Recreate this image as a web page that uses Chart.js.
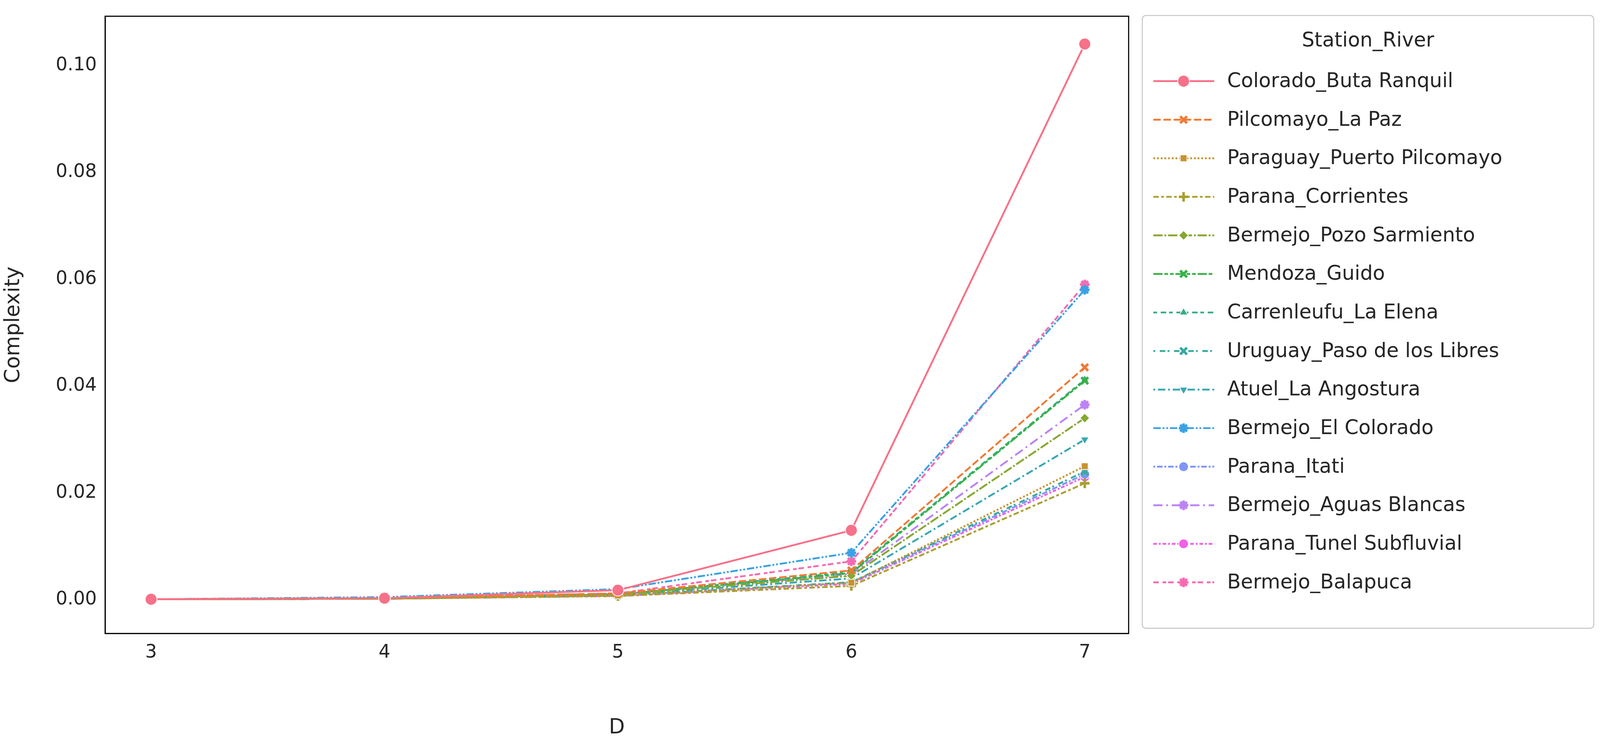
<!DOCTYPE html>
<html><head><meta charset="utf-8">
<script src="https://cdn.jsdelivr.net/npm/chart.js@4"></script>
<style>html,body{margin:0;padding:0;background:#fff;overflow:hidden}#c{display:block}</style>
</head><body>
<canvas id="c"></canvas>
<script>
const D = [3,4,5,6,7];
const xTicks = [3,4,5,6,7];
const yTicks = [0,0.02,0.04,0.06,0.08,0.10];
const names = ["Colorado_Buta Ranquil","Pilcomayo_La Paz","Paraguay_Puerto Pilcomayo","Parana_Corrientes","Bermejo_Pozo Sarmiento","Mendoza_Guido","Carrenleufu_La Elena","Uruguay_Paso de los Libres","Atuel_La Angostura","Bermejo_El Colorado","Parana_Itati","Bermejo_Aguas Blancas","Parana_Tunel Subfluvial","Bermejo_Balapuca"];
const colorado    = [0.0001,0.0003,0.0018,0.0130,0.1040];
const pilcomayo   = [0.0001,0.0003,0.0012,0.0055,0.0435];
const paraguay    = [0.0001,0.0002,0.0008,0.0032,0.0250];
const corrientes  = [0.0001,0.0002,0.0007,0.0026,0.0218];
const pozo        = [0.0001,0.0002,0.0010,0.0045,0.0340];
const mendoza     = [0.0001,0.0002,0.0010,0.0050,0.0410];
const carrenleufu = [0.0001,0.0002,0.0010,0.0052,0.0412];
const uruguay     = [0.0001,0.0002,0.0008,0.0033,0.0240];
const atuel       = [0.0001,0.0002,0.0009,0.0040,0.0300];
const elColorado  = [0.0001,0.0005,0.0020,0.0088,0.0580];
const itati       = [0.0001,0.0002,0.0008,0.0032,0.0235];
const aguas       = [0.0001,0.0002,0.0010,0.0048,0.0365];
const tunel       = [0.0001,0.0002,0.0007,0.0030,0.0230];
const balapuca    = [0.0001,0.0003,0.0012,0.0072,0.0590];
const series = [colorado,pilcomayo,paraguay,corrientes,pozo,mendoza,carrenleufu,uruguay,atuel,elColorado,itati,aguas,tunel,balapuca];
const colors = ["#f77189","#ee7a35","#c8922f","#a9a031","#86a832","#3ab149","#35ac87","#37aa9f","#38a7b4","#3aa2e4","#7f96f5","#bb83f4","#ef62e6","#f56bb3"];

const W = window.innerWidth || 4338, H = window.innerHeight || 1899;
const S = Math.min(W/4338, H/1899);
const cv = document.getElementById("c"); cv.width = W; cv.height = H;
const lw = 5*S;
const dashes = [[],[4,1.5],[1,1],[3,1.25,1.5,1.25],[5,1,1,1],[5,1,2,1,2,1],[2,2,3,1.5],[1,2.5,3,1.2],[1,1.5,4,1.5],[4,1,1,1,1,1],[1,1,3,1],[5,2,1,2],[2,1,1,1],[3,2,2,1]].map(d=>d.map(v=>v*lw));
const styles = ["circle","crossRot","rect","cross","rectRot","cross","triangle","crossRot","triangle","star","circle","star","circle","star"];
const rots = [0,0,0,0,0,45,0,0,180,0,0,0,0,0];
const crossy = s => s==="cross"||s==="crossRot"||s==="star";
const datasets = series.map((s,i)=>({
  label:names[i], data:D.map((d,j)=>({x:d,y:s[j]})),
  borderColor:colors[i], backgroundColor:colors[i], borderWidth:lw, borderDash:dashes[i],
  pointStyle:styles[i], rotation:rots[i], pointRadius:(i===0?16:13)*S,
  pointBorderColor: crossy(styles[i])?colors[i]:"#ffffff",
  pointBorderWidth:(crossy(styles[i])?7:2)*S, tension:0, fill:false
}));
const FONT = "'DejaVu Sans', sans-serif";
const frame = {id:"frame", afterDraw(ch){
  const a=ch.chartArea, c=ch.ctx; c.save(); c.strokeStyle="#000"; c.lineWidth=3*S; c.setLineDash([]);
  c.strokeRect(a.left,a.top,a.right-a.left,a.bottom-a.top);
  const L=3097*S, T=42*S, R=4321*S, B=1703*S;
  c.strokeStyle="#cccccc"; c.lineWidth=3*S; c.fillStyle="#fff";
  c.beginPath(); c.roundRect(L,T,R-L,B-T,10*S); c.fill(); c.stroke();
  c.fillStyle="#262626"; c.font=(54*S)+"px "+FONT; c.textBaseline="middle"; c.textAlign="center";
  c.fillText("Station_River",(L+R)/2,T+70*S);
  c.textAlign="left";
  ch.data.datasets.forEach((ds,i)=>{
    const y=T+178*S+i*104.5*S;
    c.strokeStyle=ds.borderColor; c.lineWidth=lw; c.setLineDash(ds.borderDash);
    c.beginPath(); c.moveTo(L+30*S,y); c.lineTo(L+195*S,y); c.stroke(); c.setLineDash([]);
    c.fillStyle=ds.backgroundColor; c.strokeStyle=ds.pointBorderColor; c.lineWidth=ds.pointBorderWidth;
    Chart.helpers.drawPoint(c,{pointStyle:ds.pointStyle,rotation:ds.rotation,radius:ds.pointRadius,borderWidth:ds.pointBorderWidth},L+112*S,y);
    c.fillStyle="#262626"; c.fillText(ds.label,L+230*S,y+2*S);
  });
  c.restore();
}};
new Chart(cv,{
  type:"line", data:{datasets},
  options:{responsive:false, animation:false, devicePixelRatio:1,
    layout:{padding:{left:0,right:W-3060*S,top:42*S,bottom:0}},
    plugins:{legend:{display:false},tooltip:{enabled:false}},
    scales:{
      x:{type:"linear",min:2.803,max:7.188,grid:{display:false},border:{color:"#000",width:3*S},
        afterBuildTicks:a=>{a.ticks=xTicks.map(v=>({value:v}));},
        afterFit:a=>{a.height=H-1717*S;},
        ticks:{font:{size:50*S,family:FONT},color:"#262626",padding:14*S,callback:v=>String(v)},
        title:{display:true,text:"D",font:{size:56*S,family:FONT},color:"#262626",padding:{top:6*S}}},
      y:{min:-0.0063,max:0.1092,grid:{display:false},border:{color:"#000",width:3*S},
        afterBuildTicks:a=>{a.ticks=yTicks.map(v=>({value:v}));},
        afterFit:a=>{a.width=285*S;},
        ticks:{font:{size:50*S,family:FONT},color:"#262626",padding:14*S,callback:v=>v.toFixed(2)},
        title:{display:true,text:"Complexity",font:{size:56*S,family:FONT},color:"#262626",padding:{bottom:14*S}}}
    }},
  plugins:[frame]
});
</script></body></html>
